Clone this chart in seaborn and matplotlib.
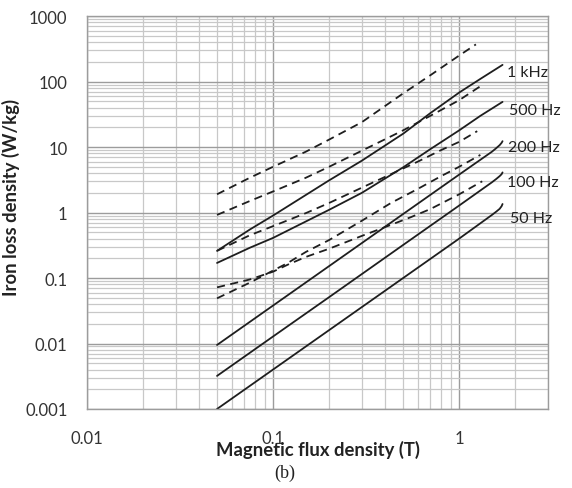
import matplotlib
matplotlib.use("Agg")
import matplotlib.pyplot as plt
import matplotlib.ticker as mticker
import seaborn as sns
import pandas as pd

# solid curves (model), B in T, loss in W/kg
b_1k = [0.05, 0.075, 0.1, 0.2, 0.3, 0.5, 0.7, 1.0, 1.3, 1.71]
p_1k = [0.26, 0.55, 0.9, 3.1, 6.2, 16, 33, 68, 110, 180]

b_500 = [0.05, 0.075, 0.1, 0.2, 0.3, 0.5, 0.7, 1.0, 1.3, 1.71]
p_500 = [0.17, 0.29, 0.41, 1.1, 2.0, 4.9, 9.3, 18, 30, 49]

b_low = [0.05, 0.1, 0.2, 0.5, 1.0, 1.5, 1.58, 1.65, 1.69, 1.71]
p_200 = [0.0095, 0.038, 0.152, 0.95, 3.8, 8.5, 9.6, 10.7, 11.6, 12.3]
p_100 = [0.0032, 0.0128, 0.051, 0.32, 1.28, 2.9, 3.25, 3.6, 3.85, 4.1]
p_50 = [0.001, 0.004, 0.016, 0.1, 0.4, 0.92, 1.03, 1.14, 1.25, 1.35]

# dashed curves (measured)
b_d1 = [0.05, 0.075, 0.1, 0.15, 0.2, 0.3, 0.5, 0.7, 1.0, 1.23]
p_d1 = [1.9, 3.4, 5.0, 8.5, 13, 24, 66, 125, 250, 370]

b_d2 = [0.05, 0.075, 0.1, 0.15, 0.2, 0.3, 0.5, 0.7, 1.0, 1.3]
p_d2 = [0.92, 1.5, 2.1, 3.4, 5.0, 8.8, 18, 30, 52, 85]

b_d3 = [0.05, 0.075, 0.1, 0.15, 0.2, 0.3, 0.45, 0.6, 0.8, 1.0, 1.25]
p_d3 = [0.26, 0.45, 0.62, 0.98, 1.4, 2.4, 4.1, 6.0, 9.0, 12, 17.5]

b_d4 = [0.05, 0.075, 0.1, 0.12, 0.15, 0.2, 0.3, 0.43, 0.6, 0.8, 1.0, 1.3]
p_d4 = [0.049, 0.085, 0.13, 0.17, 0.25, 0.38, 0.75, 1.4, 2.3, 3.6, 5.0, 7.6]

b_d5 = [0.05, 0.075, 0.1, 0.12, 0.15, 0.2, 0.3, 0.4, 0.55, 0.7, 1.0, 1.33]
p_d5 = [0.072, 0.095, 0.125, 0.16, 0.21, 0.28, 0.44, 0.6, 0.85, 1.13, 1.9, 3.0]

freq_labels = ["1 kHz", "500 Hz", "200 Hz", "100 Hz", "50 Hz"]
label_b = [1.8, 1.85, 1.82, 1.8, 1.87]
label_p = [140, 36.7, 10, 2.93, 0.82]

y_ticks = [0.001, 0.01, 0.1, 1, 10, 100, 1000]
y_ticklabels = ["0.001", "0.01", "0.1", "1", "10", "100", "1000"]
x_ticks = [0.01, 0.1, 1]
x_ticklabels = ["0.01", "0.1", "1"]

sns.set_style("white")
plt.rcParams["font.family"] = ["Lato", "DejaVu Sans"]

fig = plt.figure(figsize=(5.72, 4.89), dpi=100)
ax = fig.add_axes([0.152, 0.1616, 0.806, 0.8034])

ax.set_xscale("log")
ax.set_yscale("log")
ax.set_xlim(0.01, 3)
ax.set_ylim(0.001, 1000)

ax.xaxis.set_minor_locator(mticker.LogLocator(base=10, subs=range(2, 10), numticks=20))
ax.yaxis.set_minor_locator(mticker.LogLocator(base=10, subs=range(2, 10), numticks=20))
ax.xaxis.set_minor_formatter(mticker.NullFormatter())
ax.yaxis.set_minor_formatter(mticker.NullFormatter())
ax.grid(True, which="minor", color="#c8c8c8", lw=0.9)
ax.grid(True, which="major", color="#9c9c9c", lw=1.0)
ax.set_axisbelow(True)

line_col = "#1e1e1e"
solid = [(b_1k, p_1k), (b_500, p_500), (b_low, p_200), (b_low, p_100), (b_low, p_50)]
dashed = [(b_d1, p_d1), (b_d2, p_d2), (b_d3, p_d3), (b_d4, p_d4), (b_d5, p_d5)]

for bx, py in solid:
    df = pd.DataFrame({"B": bx, "P": py})
    sns.lineplot(data=df, x="B", y="P", ax=ax, color=line_col, lw=1.3)

for bx, py in dashed:
    df = pd.DataFrame({"B": bx, "P": py})
    sns.lineplot(data=df, x="B", y="P", ax=ax, color=line_col, lw=1.3,
                 linestyle=(0, (4.5, 3)))

for txt, bx, py in zip(freq_labels, label_b, label_p):
    ax.text(bx, py, txt, fontsize=11.5, va="center", ha="left", color="#222222",
            clip_on=False)

ax.set_yticks(y_ticks)
ax.set_yticklabels(y_ticklabels)
ax.set_xticks(x_ticks)
ax.set_xticklabels(x_ticklabels)
ax.tick_params(which="both", length=0, labelsize=12, colors="#333333")
ax.tick_params(axis="y", pad=14)
ax.tick_params(axis="x", pad=15)

for s in ax.spines.values():
    s.set_color("#9c9c9c")
    s.set_linewidth(1.0)

ax.set_xlabel("Magnetic flux density (T)", fontsize=13.3, fontweight="bold",
              color="#222222", labelpad=-4)
ax.set_ylabel("Iron loss density (W/kg)", fontsize=13.3, fontweight="bold",
              color="#222222")
ax.yaxis.set_label_coords(-0.145, 0.54)

fig.text(285 / 572, 1 - 473 / 489, "(b)", family="Liberation Serif",
         fontsize=13, ha="center", va="center", color="#222222")

fig.savefig("out.png", dpi=100)
